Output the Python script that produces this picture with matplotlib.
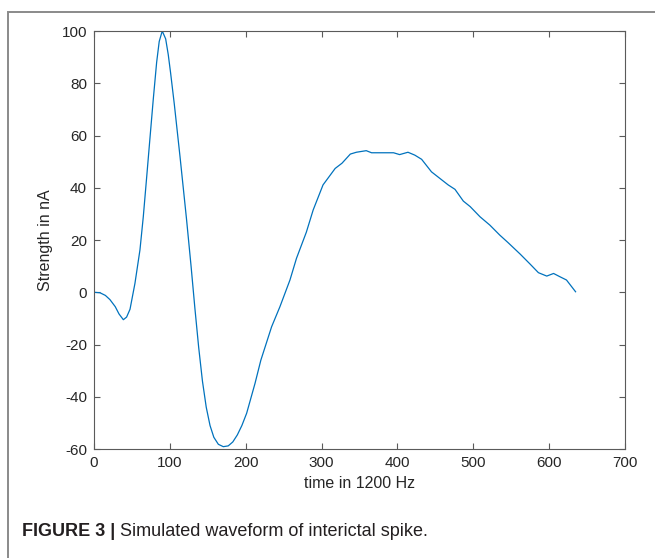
import matplotlib
matplotlib.use("Agg")
import matplotlib.pyplot as plt
from matplotlib.patches import Rectangle

# waveform (samples at 1200 Hz, strength in nA)
t = [0, 8, 15, 21, 28, 33, 38.7, 43, 47.5, 54, 60.6, 65, 69.5, 73.8, 78.2,
     82.6, 86, 90, 94.5, 97.9, 101, 105.9, 113.4, 122, 128, 133, 138, 143,
     148, 153, 158, 164, 170.5, 177, 183, 189, 195, 201.3, 212.3, 220,
     234.2, 245.2, 258.4, 267, 280, 289, 302, 318, 327, 338, 346, 359, 366,
     381, 395, 403, 414, 423, 432, 445, 456, 467, 476, 487, 496, 509, 522, 535,
     546, 562, 575, 586, 597, 606, 614, 623, 635]
strength = [0.0, -0.2, -1.2, -2.8, -5.5, -8.3, -10.5, -9.5, -6.5, 3.4, 16.2,
            28.9, 44.2, 59.0, 74.0, 88.0, 96.0, 100.0, 97.0, 91.0, 84.0, 72.0,
            52.0, 28.0, 10.0, -6.0, -21.0, -34.0, -44.0, -51.0, -55.5, -58.2,
            -59.1, -58.8, -57.3, -54.6, -51.0, -46.3, -34.9, -26.0, -13.2,
            -5.5, 4.7, 13.0, 23.0, 31.5, 41.1, 47.4, 49.4, 52.9, 53.6, 54.2,
            53.4, 53.4, 53.4, 52.7, 53.6, 52.5, 50.9, 46.1, 43.6, 41.1, 39.4,
            34.9, 32.8, 28.9, 25.7, 21.9, 19.0, 14.6, 10.8, 7.5, 6.2, 7.2, 6.0,
            4.7, 0.2]

xticks = [0, 100, 200, 300, 400, 500, 600, 700]
yticks = [-60, -40, -20, 0, 20, 40, 60, 80, 100]

plt.rcParams['font.family'] = ['Liberation Sans', 'DejaVu Sans']
plt.rcParams['axes.unicode_minus'] = False

fig = plt.figure(figsize=(6.55, 5.58), dpi=100)
ax = fig.add_axes([0.1435, 0.1953, 0.8105, 0.7491])

ax.plot(t, strength, color='#0072BD', linewidth=0.9)

ax.set_xlim(0, 700)
ax.set_ylim(-60, 100)
ax.set_xticks(xticks)
ax.set_yticks(yticks)
ax.tick_params(direction='in', length=4.5, width=0.8, top=True, right=True,
               color='#5a5a5a', labelcolor='#262626', labelsize=11, pad=5)
for s in ax.spines.values():
    s.set_color('#5a5a5a')
    s.set_linewidth(0.8)

ax.set_xlabel('time in 1200 Hz', fontsize=11.5, color='#262626', labelpad=4)
ax.set_ylabel('Strength in nA', fontsize=11.5, color='#262626', labelpad=6)

# outer frame of the figure panel
fig.patches.append(Rectangle((8 / 655, -0.1), 1.2, 1 - 12 / 558 + 0.1,
                             transform=fig.transFigure, fill=False,
                             edgecolor='#8a8a8a', linewidth=1.4))

# caption
cap1 = fig.text(22 / 655, 1 - 531 / 558, 'FIGURE 3 |', fontsize=13,
                fontweight='bold', color='#231f20', va='center')
fig.canvas.draw()
bb = cap1.get_window_extent()
fig.text((bb.x1 + 5) / 655, 1 - 531 / 558,
         'Simulated waveform of interictal spike.', fontsize=13,
         color='#231f20', va='center')

fig.savefig('out.png', dpi=100)
